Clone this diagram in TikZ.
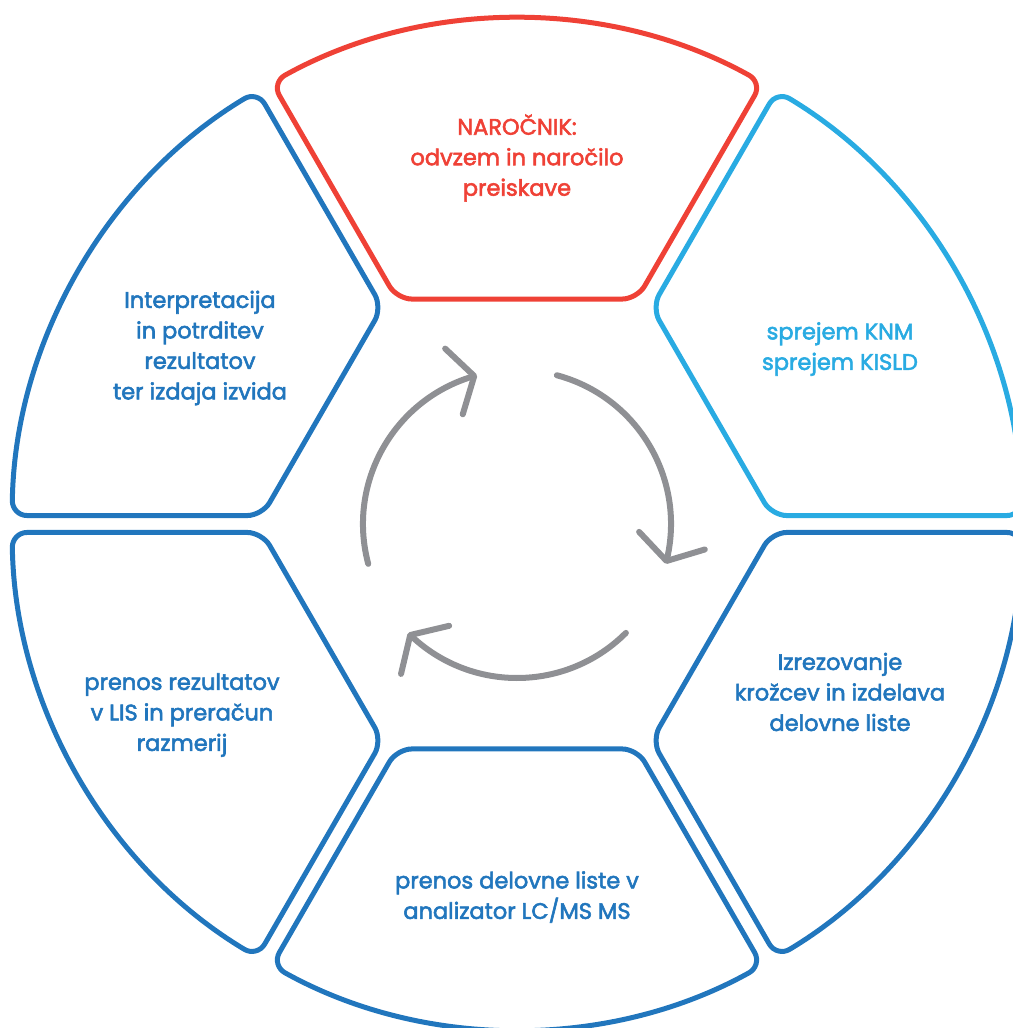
\documentclass[tikz,border=0pt]{standalone}
\usepackage{fontspec}
\setmainfont{Poppins}[FakeBold=2.5]
\usetikzlibrary{arrows.meta,bending}
\definecolor{naroRed}{HTML}{EF4136}
\definecolor{sprejemBlue}{HTML}{29ABE2}
\definecolor{procBlue}{HTML}{2176BD}
\definecolor{cycGrey}{HTML}{8F9094}

\begin{document}
\begin{tikzpicture}[
    x=1pt, y=1pt,
    seg/.style={line width=5pt, rounded corners=15pt},
    lbl/.style={align=center, font=\fontsize{22.5}{30.5}\selectfont, inner sep=0pt},
    cyc/.style={draw=cycGrey, line width=6pt, line cap=round, -{Straight Barb[length=21pt, width=68pt, round]}}
]
\useasboundingbox (-517,-504) rectangle (495,524);

% segments: inner corners on the hexagon, outer edge on the circle
\foreach \ang/\col in {90/naroRed, 150/procBlue, 210/procBlue, 270/procBlue, 330/procBlue, 30/sprejemBlue}
  \draw[seg, draw=\col] (\ang-28.1:255) -- (\ang-29.04:505)
    arc[start angle=\ang-29.04, end angle=\ang+29.04, radius=505pt]
    -- (\ang+28.1:255) -- cycle;

% labels
\node[lbl, text=naroRed] (naro) at (0,366) {NAROČNIK:\\odvzem in naročilo\\preiskave};
\node[lbl, text=sprejemBlue] (sprejem) at (323,175) {sprejem KNM\\sprejem KISLD};
\node[lbl, text=procBlue] (izrez) at (323,-168) {Izrezovanje\\krožcev in izdelava\\delovne liste};
\node[lbl, text=procBlue] (prenosDL) at (0,-373) {prenos delovne liste v\\analizator LC/MS MS};
\node[lbl, text=procBlue] (prenosRez) at (-335,-191) {prenos rezultatov\\v LIS in preračun\\razmerij};
\node[lbl, text=procBlue] (interp) at (-317,176) {Interpretacija\\in potrditev\\rezultatov\\ter izdaja izvida};

% cycle arrows
\draw[cyc] (195:154) arc[start angle=195, end angle=105, radius=154pt];
\draw[cyc] (75:154) arc[start angle=75, end angle=-15, radius=154pt];
\draw[cyc] (-45:154) arc[start angle=-45, end angle=-135, radius=154pt];
\end{tikzpicture}
\end{document}
